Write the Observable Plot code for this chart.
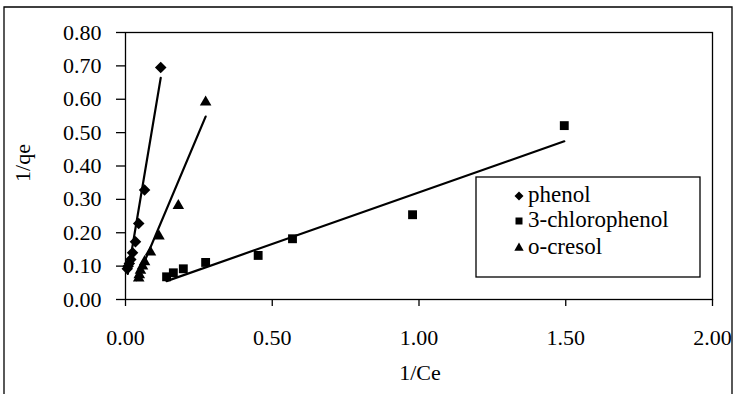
<!DOCTYPE html>
<html>
<head>
<meta charset="utf-8">
<script src="https://cdn.jsdelivr.net/npm/d3@7"></script>
<script src="https://cdn.jsdelivr.net/npm/@observablehq/plot@0.6"></script>
<style>
  body { margin: 0; background: #fff; }
  #chart svg { display: block; }
</style>
</head>
<body>
<div id="chart"></div>
<script>
// Axis ticks
const xTicks = [0, 0.5, 1.0, 1.5, 2.0];
const yTicks = [0, 0.1, 0.2, 0.3, 0.4, 0.5, 0.6, 0.7, 0.8];

// Series names (legend order)
const seriesNames = ["phenol", "3-chlorophenol", "o-cresol"];

// Linearised isotherm data: 1/Ce vs 1/qe
const phenolX = [0.006, 0.009, 0.013, 0.018, 0.024, 0.034, 0.045, 0.065, 0.120];
const phenolY = [0.092, 0.100, 0.108, 0.120, 0.140, 0.173, 0.228, 0.328, 0.695];

const chloroX = [0.140, 0.163, 0.197, 0.273, 0.452, 0.569, 0.978, 1.495];
const chloroY = [0.068, 0.080, 0.092, 0.111, 0.132, 0.182, 0.254, 0.521];

const cresolX = [0.045, 0.047, 0.051, 0.058, 0.065, 0.085, 0.114, 0.180, 0.273];
const cresolY = [0.064, 0.074, 0.087, 0.100, 0.113, 0.142, 0.190, 0.281, 0.591];

// Fitted trend lines (end points)
const phenolFitX = [0.008, 0.120];
const phenolFitY = [0.077, 0.664];
const chloroFitX = [0.140, 1.495];
const chloroFitY = [0.055, 0.474];
const cresolFitX = [0.038, 0.273];
const cresolFitY = [0.058, 0.548];

const toRows = (xs, ys, name) => xs.map((x, i) => ({x, y: ys[i], series: name}));

const phenol = toRows(phenolX, phenolY, seriesNames[0]);
const chloro = toRows(chloroX, chloroY, seriesNames[1]);
const cresol = toRows(cresolX, cresolY, seriesNames[2]);
const fits = [
  ...toRows(phenolFitX, phenolFitY, seriesNames[0]),
  ...toRows(chloroFitX, chloroFitY, seriesNames[1]),
  ...toRows(cresolFitX, cresolFitY, seriesNames[2])
];

const font = "'Liberation Serif', 'Times New Roman', serif";

const chart = Plot.plot({
  width: 736,
  height: 394,
  marginLeft: 125,
  marginRight: 24,
  marginTop: 32,
  marginBottom: 95,
  style: {fontFamily: font, fontSize: "22px", color: "black", background: "white", overflow: "visible"},
  x: {domain: [0, 2]},
  y: {domain: [0, 0.8]},
  marks: [
    Plot.frame({stroke: "black", strokeWidth: 1.3}),
    Plot.axisX({ticks: xTicks, tickFormat: d => d.toFixed(2), tickSize: 7, tickPadding: 23, label: null, strokeWidth: 1.3}),
    Plot.axisY({ticks: yTicks, tickFormat: d => d.toFixed(2), tickSize: 9, tickPadding: 15, label: null, strokeWidth: 1.3}),
    Plot.line(fits, {x: "x", y: "y", z: "series", stroke: "black", strokeWidth: 2.2}),
    Plot.dot(chloro, {x: "x", y: "y", symbol: "square", r: 5.0, fill: "black", stroke: "none"}),
    Plot.dot(cresol, {x: "x", y: "y", symbol: "triangle", r: 4.3, fill: "black", stroke: "none"}),
    Plot.dot(phenol, {x: "x", y: "y", symbol: "diamond2", r: 5.2, fill: "black", stroke: "none"})
  ]
});

document.getElementById("chart").appendChild(chart);

const svg = d3.select(chart);

// Outer border of the figure
svg.insert("path", ":first-child")
  .attr("d", "M4,394 V7 H732 V394")
  .attr("fill", "none")
  .attr("stroke", "black")
  .attr("stroke-width", 1.3);

// Axis titles
svg.append("text")
  .attr("transform", "translate(30,163) rotate(-90)")
  .attr("text-anchor", "middle")
  .attr("font-family", font)
  .attr("font-size", 22)
  .text("1/qe");

svg.append("text")
  .attr("x", 420)
  .attr("y", 380)
  .attr("text-anchor", "middle")
  .attr("font-family", font)
  .attr("font-size", 22)
  .text("1/Ce");

// Legend
const legend = svg.append("g");
legend.append("rect")
  .attr("x", 476).attr("y", 177).attr("width", 224).attr("height", 100)
  .attr("fill", "white").attr("stroke", "black").attr("stroke-width", 1.3);

const legendItems = [
  {name: seriesNames[0], type: d3.symbolDiamond2, size: 52, y: 196},
  {name: seriesNames[1], type: d3.symbolSquare, size: 49, y: 221},
  {name: seriesNames[2], type: d3.symbolTriangle, size: 38, y: 248}
];
legendItems.forEach(item => {
  legend.append("path")
    .attr("d", d3.symbol().type(item.type).size(item.size)())
    .attr("transform", `translate(519,${item.y})`)
    .attr("fill", "black");
  legend.append("text")
    .attr("x", 528)
    .attr("y", item.y + 6)
    .attr("text-anchor", "start")
    .attr("font-family", font)
    .attr("font-size", 23)
    .text(item.name);
});
</script>
</body>
</html>
